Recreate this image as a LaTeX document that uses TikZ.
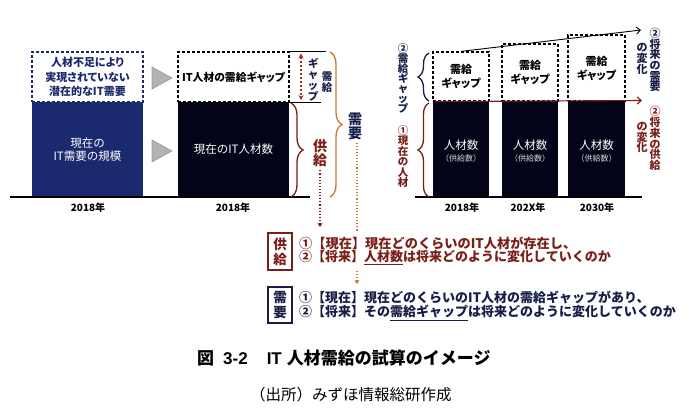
\documentclass[tikz,border=0pt]{standalone}
\usepackage{fontspec}
\setmainfont{Noto Sans CJK JP}
\newfontfamily\jpp{Noto Sans CJK JP}[RawFeature=+palt]
\newfontfamily\lat{Liberation Sans}
\usetikzlibrary{arrows.meta,decorations.pathreplacing}
\definecolor{navybox}{RGB}{27,42,110}
\definecolor{darkbox}{RGB}{4,4,24}
\definecolor{supred}{RGB}{122,30,24}
\definecolor{demor}{RGB}{200,120,48}
\definecolor{navytxt}{RGB}{22,30,72}
\definecolor{gapred}{RGB}{170,40,40}
\definecolor{trigray}{RGB}{178,178,178}
\newcommand\fs[2]{\fontsize{#1}{#2}\selectfont\lineskiplimit=-50pt\relax}
\tikzset{
  dbox/.style={draw=#1, dash pattern=on 3pt off 2pt, line width=1.2pt, inner sep=0pt},
  sbox/.style={fill=#1, draw=none, inner sep=0pt},
  vt/.style={align=center, inner sep=0pt},
  axisline/.style={line width=1.2pt, black},
  tri/.style={fill=trigray, draw=gray!80, line width=0.6pt},
  brc/.style={decorate, decoration={brace, amplitude=#1}, line width=1.3pt},
  yr/.style={inner sep=0pt, font=\bfseries\fs{10}{12}},
  dotarr/.style={dotted, line width=1.1pt},
}
\begin{document}
\begin{tikzpicture}[x=1pt,y=-1pt]
\fill[white] (0,0) rectangle (699,420);
\useasboundingbox (0,0) rectangle (699,420);

% ---------- left chart ----------
\node[sbox=navybox, minimum width=111pt, minimum height=95pt, text=white, align=center, font=\fs{11.5}{13.5}] (curdem) at (87.5,149.5) {現在の\\IT需要の規模};
\node[dbox=navybox, minimum width=111pt, minimum height=50pt, text=navybox, align=center, font=\bfseries\jpp\fs{11}{14.5}] (latent) at (87.5,77) {人材不足により\\実現されていない\\潜在的なIT需要};
\node[sbox=darkbox, minimum width=111pt, minimum height=95pt, text=white, font=\fs{11.5}{13.5}] (curit) at (233.5,149.5) {現在のIT人材数};
\node[dbox=black, minimum width=111pt, minimum height=50pt, font=\bfseries\jpp\fs{10.8}{14}] (gapbox) at (233.5,77) {IT人材の需給ギャップ};

\draw[tri] (152,67) -- (152,89) -- (172,78) -- cycle;
\draw[tri] (152,140) -- (152,162) -- (172,151) -- cycle;

\draw[axisline] (10,197) -- (310,197);
\node[yr] (y1) at (88,208) {2018年};
\node[yr] (y2) at (233,208) {2018年};

% gap marker
\coordinate (gt) at (301,53.5);
\coordinate (gb) at (301,100);
\draw[line width=1pt] (gapbox.north east) -- ++(36,0);
\draw[line width=1pt] (gapbox.south east) -- ++(31,0);
\draw[gapred, line width=1.1pt, dash pattern=on 2.5pt off 1.5pt, {Stealth[length=5pt,width=5pt]}-{Stealth[length=5pt,width=5pt]}] (gt) -- (gb);
\node[vt, font=\bfseries\jpp\fs{10.5}{11}, text=navytxt] (gapv1) at (313,80) {ギ\\ャ\\ッ\\プ};
\node[vt, font=\bfseries\fs{10.5}{11}, text=navytxt] (gapv2) at (327,82) {需\\給};

% supply brace
\draw[brc=12pt, supred] (291,103) -- (291,197);
\node[vt, font=\bfseries\fs{14}{14}, text=supred] (kyo) at (320,153.5) {供\\給};
% demand brace
\draw[brc=12pt, demor] (330,52) -- (330,197);
\node[vt, font=\bfseries\fs{14}{14}, text=navytxt] (juyo) at (355,126) {需\\要};

% dotted connectors
\coordinate (kyoend) at (320,227);
\draw[dotarr, supred, -{Stealth[length=4pt,width=5pt]}] (kyo.south) ++(0,3) -- (kyoend);
\coordinate (juyob1) at (357,232);
\coordinate (juyob2) at (357,271);
\coordinate (juyoend) at (357,284);
\draw[dotarr, demor] (juyo.south) ++(2,3) -- (juyob1);
\draw[dotarr, demor, -{Stealth[length=4pt,width=5pt]}] (juyob2) -- (juyoend);

% ---------- lower text ----------
\node[draw=supred, line width=1.2pt, minimum width=24pt, minimum height=37pt, inner sep=0pt, vt, font=\bfseries\fs{13.5}{15}, text=supred] (kbox) at (280,251.5) {供\\給};
\node[anchor=west, inner sep=0pt, font=\bfseries\fs{13.2}{15}, text=supred] (k1) at (299,243) {①【現在】現在どのくらいのIT人材が存在し、};
\node[anchor=west, inner sep=0pt, font=\bfseries\fs{13}{15}, text=supred] (k2) at (299,258) {②【将来】\underline{人材数}は将来どのように変化していくのか};
\node[draw=navytxt, line width=1.2pt, minimum width=24pt, minimum height=36pt, inner sep=0pt, vt, font=\bfseries\fs{13.5}{15}, text=navytxt] (jbox) at (280,305) {需\\要};
\node[anchor=west, inner sep=0pt, font=\bfseries\fs{13}{15}, text=navytxt] (j1) at (299,298) {①【現在】現在どのくらいのIT人材の需給ギャップがあり、};
\node[anchor=west, inner sep=0pt, font=\bfseries\fs{13}{15}, text=navytxt] (j2) at (299,313) {②【将来】その\underline{需給ギャップ}は将来どのように変化していくのか};

% ---------- right chart ----------
\node[sbox=darkbox, minimum width=56pt, minimum height=96pt] (b1) at (461,149) {};
\node[sbox=darkbox, minimum width=56pt, minimum height=96pt] (b2) at (530,149) {};
\node[sbox=darkbox, minimum width=57pt, minimum height=96pt] (b3) at (596.5,149) {};
\node[dbox=black, minimum width=56pt, minimum height=49pt, vt, font=\bfseries\jpp\fs{11}{14}] (g1) at (461,76.5) {需給\\ギャップ};
\node[dbox=black, minimum width=56pt, minimum height=57pt, vt, font=\bfseries\jpp\fs{11}{14}] (g2) at (530,72.5) {需給\\ギャップ};
\node[dbox=black, minimum width=57pt, minimum height=66pt, vt, font=\bfseries\jpp\fs{11}{14}] (g3) at (596.5,68) {需給\\ギャップ};
\foreach \b/\x in {b1/461,b2/530,b3/596.5}{
  \node[inner sep=0pt, text=white, font=\fs{11.5}{13}] (\b n) at (\x,145) {人材数};
  \node[inner sep=0pt, text=white!85!black, font=\fs{8}{10}] (\b s) at (\x,158) {（供給数）};
}
\draw[axisline] (415,197) -- (642,197);
\node[yr] (ry1) at (462,208) {2018年};
\node[yr] (ry2) at (528,208) {202X年};
\node[yr] (ry3) at (597,208) {2030年};

% trend arrows
\coordinate (dtip) at (641,30);
\coordinate (stip) at (642,100.5);
\draw[line width=0.9pt, -{Straight Barb[length=4pt,width=7pt]}] (g1.north) -- (dtip);
\draw[supred, line width=1.1pt, -{Straight Barb[length=4pt,width=7pt]}] (g1.south west) ++(2,0) -- (stip);

% right-side labels
\node[vt, font=\bfseries\fs{11}{10.7}, text=navytxt] (fd1) at (655,60) {②\\将\\来\\の\\需\\要};
\node[vt, font=\bfseries\fs{11}{10.7}, text=navytxt] (fd2) at (642,59) {の\\変\\化};
\node[vt, font=\bfseries\fs{11}{10.7}, text=supred] (fs1) at (655,138.5) {②\\将\\来\\の\\供\\給};
\node[vt, font=\bfseries\fs{11}{10.7}, text=supred] (fs2) at (642,137.5) {の\\変\\化};

% left braces and labels of right chart
\draw[brc=11pt, navytxt] (429,101) -- (429,53);
\draw[brc=11pt, supred] (429,197) -- (429,103);
\node[vt, font=\bfseries\jpp\fs{10.5}{10}, text=navytxt] (lg) at (403,78) {②\\需\\給\\ギ\\ャ\\ッ\\プ};
\node[vt, font=\bfseries\fs{10.5}{10.5}, text=supred] (lc) at (403,156.5) {①\\現\\在\\の\\人\\材};

% ---------- caption ----------
\node[anchor=west, inner sep=0pt, font=\bfseries\fs{17}{19}] (title) at (197,358) {図\hspace{9pt}{\lat\bfseries 3-2}\hspace{19pt}{\lat\bfseries IT}\hspace{5pt}人材需給の試算のイメージ};
\node[anchor=west, inner sep=0pt, font=\fs{15.5}{17}] (src) at (250,395) {（出所）みずほ情報総研作成};
\end{tikzpicture}
\end{document}
